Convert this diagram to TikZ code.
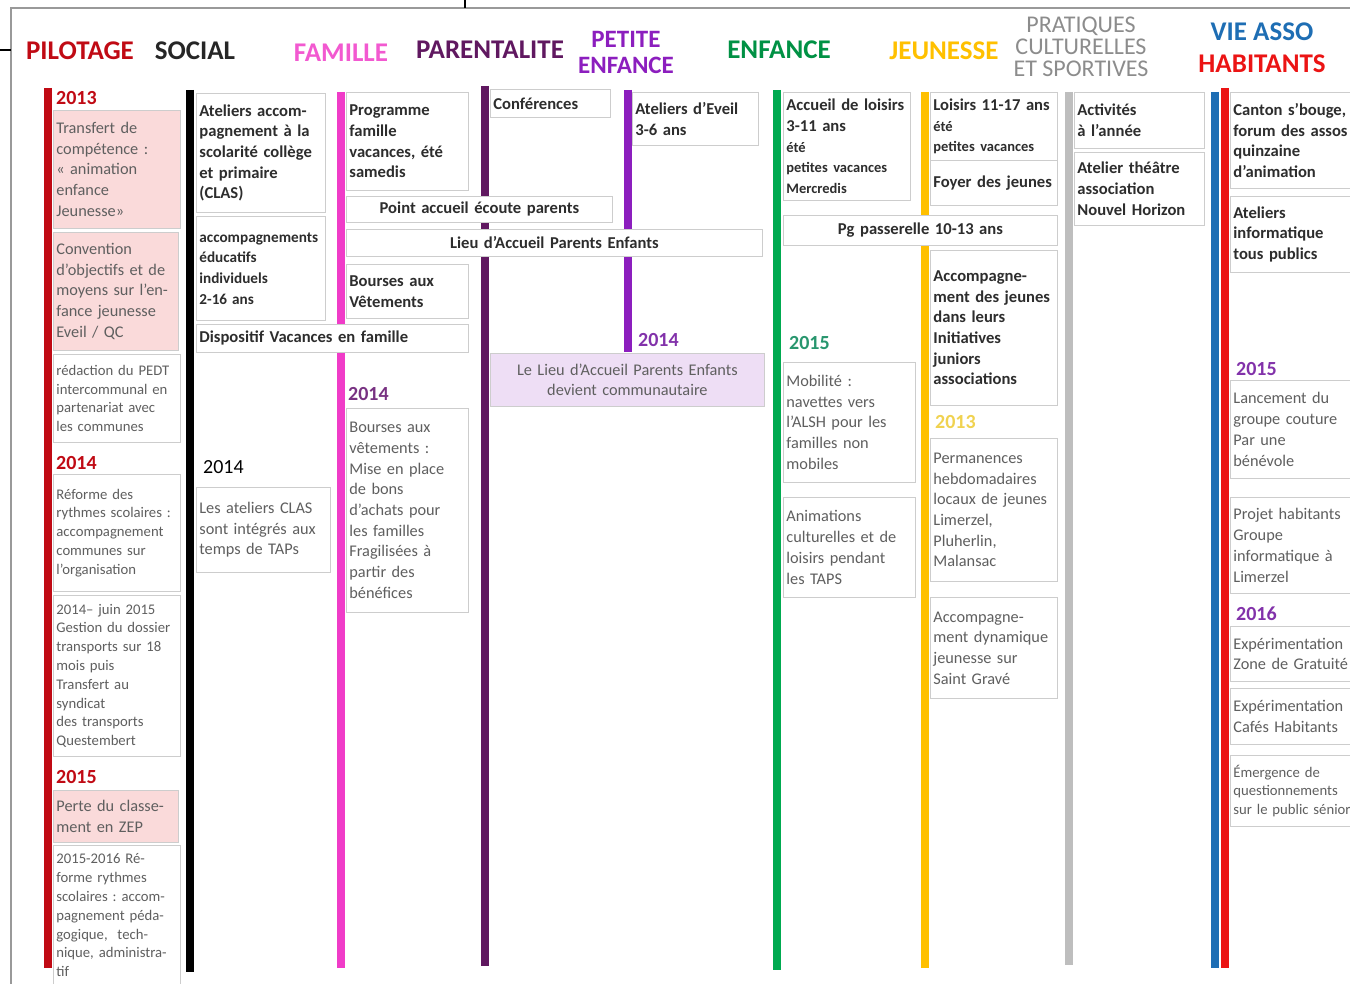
\documentclass[tikz,border=0pt]{standalone}
\usepackage{fontspec}
\setmainfont{Carlito}
\usepackage{xcolor}
\usepackage{tikz}
\usetikzlibrary{positioning}
\definecolor{pilotred}{RGB}{192,10,20}
\definecolor{pilotpink}{RGB}{250,218,218}
\definecolor{famillepink}{RGB}{240,60,200}
\definecolor{parentplum}{RGB}{96,24,96}
\definecolor{petiteviolet}{RGB}{140,30,190}
\definecolor{enfancegreen}{RGB}{0,170,80}
\definecolor{jeunessegold}{RGB}{255,192,0}
\definecolor{pratgray}{RGB}{190,190,190}
\definecolor{assoblue}{RGB}{30,110,180}
\definecolor{assored}{RGB}{235,20,20}
\definecolor{laeplilac}{RGB}{238,222,245}
\definecolor{boxgray}{RGB}{205,205,205}
\definecolor{txtdark}{RGB}{45,45,45}
\definecolor{txtgray}{RGB}{95,95,95}
\definecolor{yearplum}{RGB}{120,50,130}
\definecolor{yearviolet}{RGB}{130,50,170}
\definecolor{yeargreen}{RGB}{40,150,110}
\definecolor{yearyellow}{RGB}{240,210,80}
\newcommand{\petit}{\fontsize{14.5}{18.5}\selectfont}
\hyphenpenalty=10000
\exhyphenpenalty=10000

\begin{document}
\begin{tikzpicture}[x=1pt, y=-1pt,
    head/.style={font=\fontsize{27}{24}\selectfont\bfseries, inner sep=0pt, align=center},
    bar/.style={line width=8.5pt},
    cell/.style={draw=boxgray, line width=0.8pt, fill=white, anchor=north west,
                 inner xsep=3pt, inner ysep=1pt, align=left},
    wh/.style 2 args={minimum width=#1pt, minimum height=#2pt, text width=#1pt-6pt},
    bt/.style={font=\fontsize{16.6}{20.7}\selectfont\bfseries, text=txtdark},
    nt/.style={font=\fontsize{16.3}{20.7}\selectfont, text=txtgray},
    nts/.style={font=\fontsize{14.7}{18.8}\selectfont, text=txtgray},
    year/.style={font=\fontsize{20}{22}\selectfont\bfseries, anchor=west, inner sep=0pt},
  ]
  \useasboundingbox (0,0) rectangle (1350,984);
  \clip (0,0) rectangle (1350,984);

  \draw[black!40, line width=1.2pt] (1350,8) -- (11,8) -- (11,984);
  \draw[black, line width=2pt] (465,0) -- (465,8);
  \draw[black, line width=2pt] (0,50) -- (11,50);

  \node[head, text=pilotred] (hpilot) at (80,51) {PILOTAGE};
  \node[head, text=black!85] (hsocial) at (195,51) {SOCIAL};
  \node[head, text=famillepink!85] (hfamille) at (341,53) {FAMILLE};
  \node[head, text=parentplum] (hparent) at (490,50) {PARENTALITE};
  \node[head, text=petiteviolet, font=\fontsize{25}{24}\selectfont\bfseries] (hpetite) at (626,39) {PETITE};
  \node[head, text=petiteviolet, font=\fontsize{25}{24}\selectfont\bfseries] (hpenfance) at (626,65) {ENFANCE};
  \node[head, text=enfancegreen!85!black] (henfance) at (779,50) {ENFANCE};
  \node[head, text=jeunessegold] (hjeune) at (944,51) {JEUNESSE};
  \node[head, text=black!45, font=\fontsize{24}{22}\selectfont] (hprat) at (1081,47)
    {PRATIQUES\\CULTURELLES\\ET SPORTIVES};
  \node[head, text=assoblue] (hvie) at (1262,32) {VIE ASSO};
  \node[head, text=assored] (hhab) at (1262,64) {HABITANTS};

  \draw[bar, pilotred] (48,88) -- (48,968);
  \draw[bar, black] (190,90) -- (190,972);
  \draw[bar, famillepink] (341,92) -- (341,968);
  \draw[bar, parentplum] (485,86) -- (485,966);
  \draw[bar, petiteviolet] (628,90) -- (628,352);
  \draw[bar, enfancegreen] (777,90) -- (777,970);
  \draw[bar, jeunessegold] (925,92) -- (925,968);
  \draw[bar, pratgray] (1069,92) -- (1069,965);
  \draw[bar, assoblue] (1215,92) -- (1215,968);
  \draw[bar, assored] (1225,88) -- (1225,968);

  \node[year, text=pilotred] (ypil13) at (56,98) {2013};
  \node[cell, nt, fill=pilotpink, wh={127}{118}] (pil1) at (53,110)
    {Transfert de\\compétence :\\« animation\\enfance\\Jeunesse»};
  \node[cell, nt, fill=pilotpink, wh={125}{118}] (pil2) at (53,232)
    {Convention\\d’objectifs~et~de\\moyens sur l’en-\\fance jeunesse\\Eveil / QC};
  \node[cell, nts, wh={127}{88}] (pil3) at (53,354)
    {rédaction~du~PEDT\\intercommunal~en\\partenariat avec\\les communes};
  \node[year, text=pilotred] (ypil14) at (56,463) {2014};
  \node[cell, nts, wh={127}{117}] (pil4) at (53,474)
    {Réforme des\\rythmes~scolaires~:\\accompagnement\\communes sur\\l’organisation};
  \node[cell, nts, wh={127}{161}] (pil5) at (53,595)
    {2014– juin 2015\\Gestion~du~dossier\\transports~sur~18\\mois puis\\Transfert au\\syndicat\\des transports\\Questembert};
  \node[year, text=pilotred] (ypil15) at (56,777) {2015};
  \node[cell, nt, fill=pilotpink, wh={125}{52}] (pil6) at (53,790)
    {Perte du classe-\\ment en ZEP};
  \node[cell, nts, wh={127}{140}] (pil7) at (53,845)
    {2015-2016 Ré-\\forme rythmes\\scolaires~:~accom-\\pagnement~péda-\\gogique,~ tech-\\nique,~administra-\\tif};

  \node[cell, bt, wh={129}{119}] (soc1) at (196,93)
    {Ateliers accom-\\pagnement à la\\scolarité~collège\\et primaire\\(CLAS)};
  \node[cell, bt, font=\fontsize{15.2}{20.7}\selectfont\bfseries, wh={129}{104}] (soc2) at (196,216)
    {accompagnements\\éducatifs\\individuels\\2-16 ans};
  \node[cell, bt, wh={272}{28}] (soc3) at (196,324) {Dispositif Vacances en famille};
  \node[year, text=black, font=\fontsize{20}{22}\selectfont] (ysoc14) at (203,467) {2014};
  \node[cell, nt, wh={134}{85}] (soc4) at (196,487)
    {Les ateliers CLAS\\sont~intégrés~aux\\temps de TAPs};

  \node[cell, bt, wh={122}{98}] (fam1) at (346,92)
    {Programme\\famille\\vacances, été\\samedis};
  \node[cell, bt, align=center, wh={266}{26}] (pap) at (346,196) {Point accueil écoute parents};
  \node[cell, bt, align=center, wh={416}{27}] (laep) at (346,229) {Lieu d’Accueil Parents Enfants};
  \node[cell, bt, wh={122}{54}] (fam2) at (346,264) {Bourses aux\\Vêtements};
  \node[year, text=yearplum] (yfam14) at (348,394) {2014};
  \node[cell, nt, wh={122}{204}] (fam3) at (346,408)
    {Bourses aux\\vêtements :\\Mise en place\\de bons\\d’achats~pour\\les familles\\Fragilisées à\\partir des\\bénéfices};

  \node[cell, bt, wh={120}{28}] (par1) at (490,89) {Conférences};
  \node[cell, nt, fill=laeplilac, align=center, wh={274}{53}] (par2) at (490,353)
    {Le Lieu d’Accueil Parents Enfants\\devient communautaire};

  \node[cell, bt, wh={126}{53}] (pe1) at (632,92) {Ateliers d’Eveil\\3-6 ans};
  \node[year, text=yearviolet] (ype14) at (638,340) {2014};

  \node[cell, bt, wh={127}{108}] (enf1) at (783,92)
    {Accueil~de~loisirs\\3-11 ans\\{\petit été}\\{\petit petites vacances}\\{\petit Mercredis}};
  \node[cell, bt, align=center, wh={274}{30}] (enf2) at (783,215) {Pg passerelle 10-13 ans};
  \node[year, text=yeargreen] (yenf15) at (789,343) {2015};
  \node[cell, nt, wh={132}{120}] (enf3) at (783,362)
    {Mobilité :\\navettes vers\\l’ALSH~pour~les\\familles non\\mobiles};
  \node[cell, nt, wh={132}{100}] (enf4) at (783,497)
    {Animations\\culturelles~et~de\\loisirs pendant\\les TAPS};

  \node[cell, bt, wh={127}{68}] (jeu1) at (930,92)
    {Loisirs~11-17~ans\\{\petit été}\\{\petit petites vacances}};
  \node[cell, bt, wh={127}{45}] (jeu2) at (930,160) {Foyer~des~jeunes};
  \node[cell, bt, wh={127}{155}] (jeu3) at (930,250)
    {Accompagne-\\ment~des~jeunes\\dans leurs\\Initiatives\\juniors\\associations};
  \node[year, text=yearyellow] (yjeu13) at (935,422) {2013};
  \node[cell, nt, wh={127}{143}] (jeu4) at (930,438)
    {Permanences\\hebdomadaires\\locaux~de~jeunes\\Limerzel,\\Pluherlin,\\Malansac};
  \node[cell, nt, wh={127}{101}] (jeu5) at (930,597)
    {Accompagne-\\ment~dynamique\\jeunesse sur\\Saint Gravé};

  \node[cell, bt, wh={130}{56}] (pra1) at (1074,92) {Activités\\à l’année};
  \node[cell, bt, wh={130}{73}] (pra2) at (1074,152)
    {Atelier théâtre\\association\\Nouvel~Horizon};

  \node[cell, bt, wh={200}{96}] (vie1) at (1230,92)
    {Canton s’bouge,\\forum des assos\\quinzaine\\d’animation};
  \node[cell, bt, wh={200}{76}] (vie2) at (1230,196)
    {Ateliers\\informatique\\tous publics};
  \node[year, text=yearviolet] (yvie15) at (1236,369) {2015};
  \node[cell, nt, wh={200}{98}] (vie3) at (1230,380)
    {Lancement du\\groupe couture\\Par une\\bénévole};
  \node[cell, nt, wh={200}{96}] (vie4) at (1230,497)
    {Projet habitants\\Groupe\\informatique à\\Limerzel};
  \node[year, text=yearviolet] (yvie16) at (1236,614) {2016};
  \node[cell, nt, wh={200}{55}] (vie5) at (1230,626) {Expérimentation\\Zone de Gratuité};
  \node[cell, nt, wh={200}{56}] (vie6) at (1230,688) {Expérimentation\\Cafés Habitants};
  \node[cell, nts, wh={200}{71}] (vie7) at (1230,755)
    {Émergence de\\questionnements\\sur le public sénior};
\end{tikzpicture}
\end{document}
